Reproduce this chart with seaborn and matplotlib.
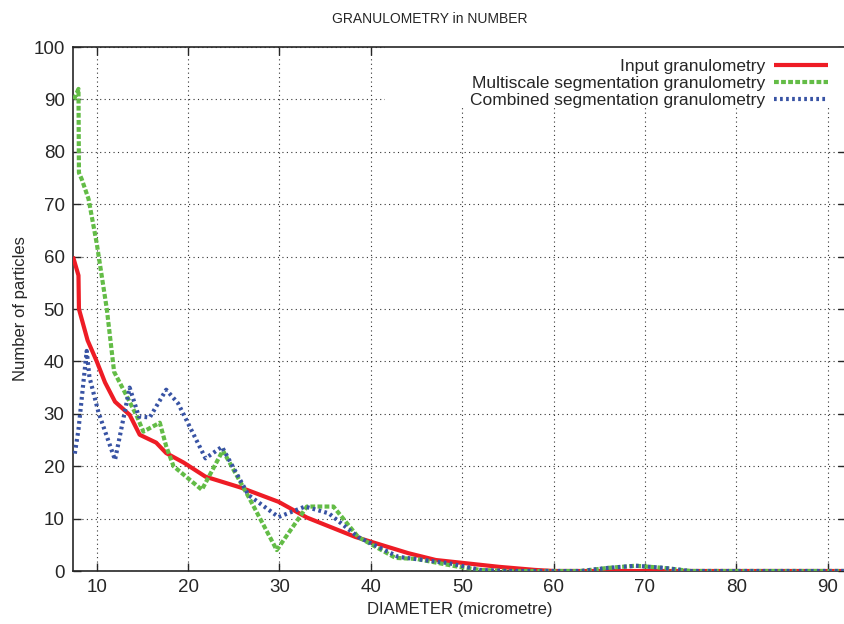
import numpy as np
import pandas as pd
import matplotlib
matplotlib.use("Agg")
import matplotlib.pyplot as plt
import seaborn as sns
from matplotlib.patches import Rectangle

# data
input_x = [7.4, 8.0, 8.05, 9.0, 10.0, 10.9, 12.0, 13.6, 14.7, 16.5, 17.6, 19.5, 21.9,
           25.8, 29.9, 33.0, 38.3, 44.1, 47.1, 54.0, 58.0, 60.0, 92.0]
input_y = [60, 56.4, 50, 44, 40, 36, 32.3, 29.8, 26, 24.5, 22.5, 20.7, 18,
           15.9, 13.2, 10.2, 6.5, 3.4, 2.1, 0.8, 0.2, 0, 0]

multi_x = [7.5, 8.0, 8.05, 8.35, 9.1, 10.0, 11.1, 11.9, 13.1, 14.4, 15.1, 16.9, 17.6,
           18.4, 21.5, 23.8, 26.6, 29.7, 33.0, 35.9, 38.6, 42.7, 45.0, 49.6, 52.0,
           55.0, 63.0, 66.0, 69.0, 72.0, 75.0, 92.0]
multi_y = [90, 92, 76, 74.8, 71, 62.5, 50, 38, 34, 29.5, 26.6, 28.3, 23.8,
           20, 15.5, 23, 14.2, 4, 12.3, 12.3, 6.5, 2.5, 2.3, 0.8, 0.2,
           0, 0, 0.6, 1.0, 0.6, 0, 0]

comb_x = [7.6, 8.0, 8.9, 9.2, 10.2, 12.0, 13.6, 14.6, 15.8, 17.6, 18.9, 21.9, 23.7,
          26.6, 29.9, 32.8, 35.4, 38.6, 43.0, 48.5, 52.0, 55.0, 63.0, 66.0, 69.0,
          72.0, 75.0, 92.0]
comb_y = [22.4, 27, 42, 37, 30.2, 21.2, 35, 29.5, 29.3, 34.6, 32, 21.5, 23.7,
          14.5, 10.3, 12.3, 11, 6.5, 2.7, 1.5, 0.2, 0, 0, 0.6, 1.0,
          0.6, 0, 0]

labels = ["Input granulometry", "Multiscale segmentation granulometry",
          "Combined segmentation granulometry"]
colors = ["#ee1c25", "#63bc46", "#3853a4"]

sns.set_style("ticks")
plt.rcParams["font.family"] = ["Liberation Sans", "DejaVu Sans"]
plt.rcParams["xtick.direction"] = "in"
plt.rcParams["ytick.direction"] = "in"

fig = plt.figure(figsize=(8.45, 6.24), dpi=100)
ax = fig.add_axes([73 / 845, 1 - 571 / 624, (846 - 73) / 845, (571 - 47) / 624])

series = [(input_x, input_y), (multi_x, multi_y), (comb_x, comb_y)]
dash_styles = [(None, None), (1.15, 0.55), (0.65, 0.8)]
for (xs, ys), lab, col, dsh in zip(series, labels, colors, dash_styles):
    df = pd.DataFrame({"x": xs, "y": ys})
    sns.lineplot(data=df, x="x", y="y", ax=ax, estimator=None, sort=False,
                 color=col, linewidth=3.0, label=lab)
    l = ax.lines[-1]
    l.set_solid_capstyle("butt")
    if dsh[0] is not None:
        l.set_dashes(dsh)
        l.set_dash_capstyle("butt")
    l.set_zorder(5)

ax.set_xlim(7.4, 92)
ax.set_ylim(0, 100)
ax.set_xticks(range(10, 100, 10))
ax.set_yticks(range(0, 101, 10))
ax.tick_params(axis="both", which="major", length=6, width=1.0, labelsize=13.5,
               top=True, right=True, pad=6)
ax.grid(True, color="#333333", linestyle=(0, (1, 3)), linewidth=0.8)
ax.set_axisbelow(True)
for s in ax.spines.values():
    s.set_linewidth(1.2)

# blank area behind the key, like the original
ax.add_patch(Rectangle(((385 - 73) / 773, (571 - 108) / 524), 1.0, 0.2,
                       transform=ax.transAxes, facecolor="white", edgecolor="none",
                       zorder=2))

ax.set_title("GRANULOMETRY in NUMBER", fontsize=10, pad=17, x=(430 - 73) / 773)
ax.set_xlabel("DIAMETER (micrometre)", fontsize=12, labelpad=4)
ax.set_ylabel("Number of particles", fontsize=12, labelpad=4)

leg = ax.legend(loc="upper right", markerfirst=False, frameon=False, fontsize=12.5,
                handlelength=3.1, handletextpad=0.5, labelspacing=0.1,
                borderaxespad=0.3, bbox_to_anchor=(0.992, 1.0))

fig.savefig("out.png", dpi=100)
